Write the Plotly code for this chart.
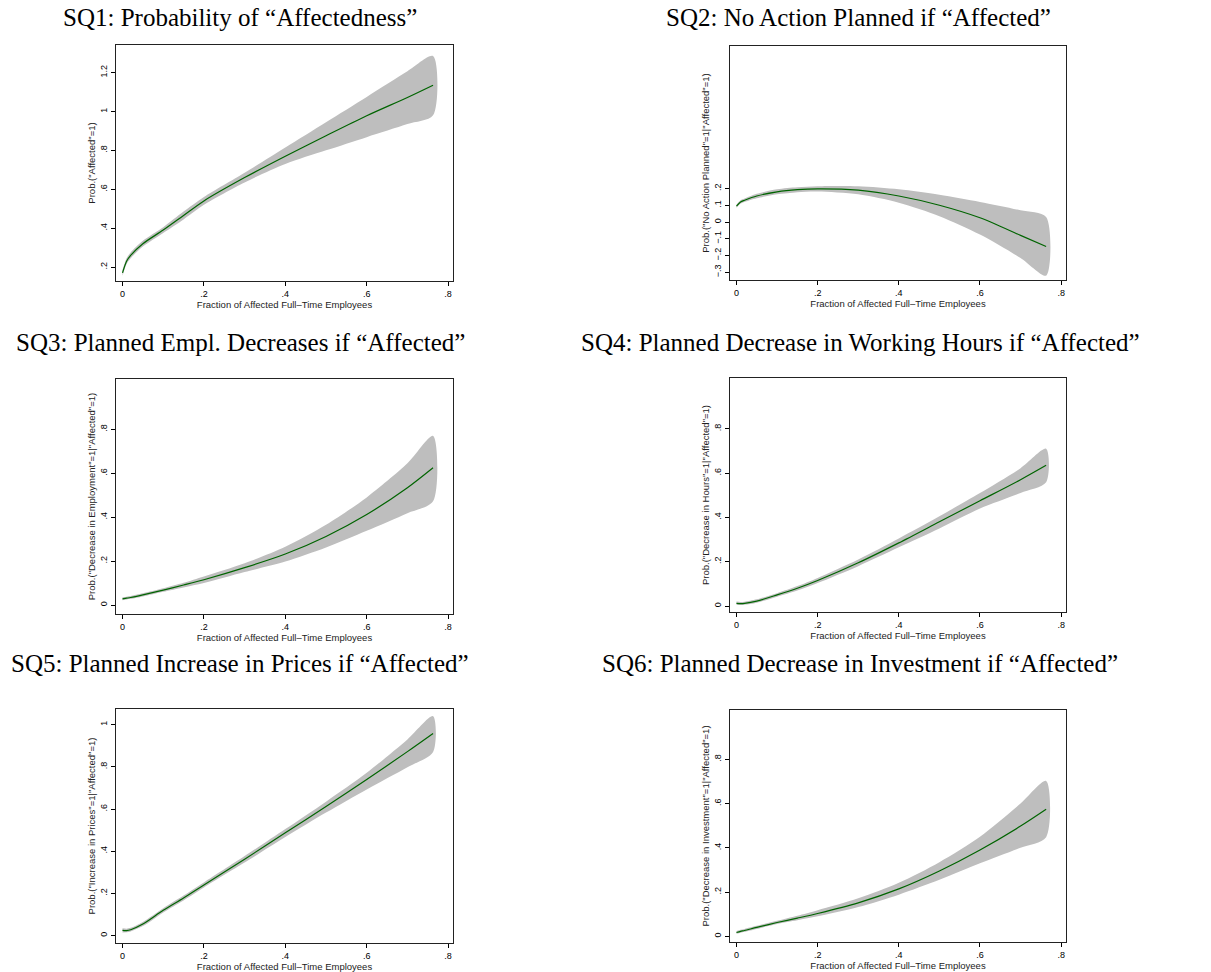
import plotly.graph_objects as go

W, H = 1211, 972

# ---------------- data ----------------
x_frac = [0, 0.01, 0.02, 0.05, 0.1, 0.15, 0.2, 0.3, 0.4, 0.5, 0.6, 0.7, 0.763]

sq1_mid = [0.17, 0.23, 0.26, 0.32, 0.39, 0.465, 0.54, 0.66, 0.77, 0.875, 0.978, 1.072, 1.135]
sq1_hi  = [0.185, 0.245, 0.275, 0.335, 0.405, 0.485, 0.56, 0.685, 0.815, 0.945, 1.075, 1.207, 1.285]
sq1_lo  = [0.155, 0.215, 0.245, 0.305, 0.375, 0.445, 0.52, 0.635, 0.73, 0.80, 0.868, 0.935, 0.98]

sq2_mid = [0.095, 0.12, 0.13, 0.155, 0.18, 0.193, 0.198, 0.19, 0.155, 0.10, 0.025, -0.08, -0.146]
sq2_hi  = [0.105, 0.13, 0.14, 0.168, 0.195, 0.207, 0.213, 0.213, 0.195, 0.163, 0.12, 0.07, 0.03]
sq2_lo  = [0.085, 0.11, 0.12, 0.142, 0.165, 0.178, 0.182, 0.165, 0.115, 0.035, -0.075, -0.215, -0.32]

sq3_mid = [0.028, 0.031, 0.034, 0.046, 0.068, 0.091, 0.115, 0.17, 0.232, 0.312, 0.412, 0.534, 0.625]
sq3_hi  = [0.035, 0.038, 0.041, 0.053, 0.076, 0.101, 0.13, 0.19, 0.265, 0.365, 0.49, 0.645, 0.77]
sq3_lo  = [0.022, 0.025, 0.028, 0.039, 0.06, 0.08, 0.1, 0.15, 0.198, 0.262, 0.338, 0.418, 0.472]

sq4_mid = [0.012, 0.011, 0.012, 0.022, 0.05, 0.08, 0.115, 0.195, 0.285, 0.38, 0.475, 0.57, 0.635]
sq4_hi  = [0.02, 0.018, 0.019, 0.03, 0.058, 0.09, 0.127, 0.21, 0.305, 0.405, 0.51, 0.622, 0.71]
sq4_lo  = [0.006, 0.005, 0.006, 0.015, 0.042, 0.07, 0.104, 0.18, 0.265, 0.35, 0.44, 0.51, 0.558]

sq5_mid = [0.025, 0.024, 0.028, 0.055, 0.12, 0.178, 0.24, 0.362, 0.487, 0.612, 0.74, 0.872, 0.958]
sq5_hi  = [0.035, 0.033, 0.037, 0.065, 0.13, 0.19, 0.252, 0.377, 0.505, 0.635, 0.772, 0.93, 1.04]
sq5_lo  = [0.015, 0.016, 0.02, 0.045, 0.11, 0.167, 0.228, 0.346, 0.467, 0.583, 0.693, 0.798, 0.87]

sq6_mid = [0.017, 0.022, 0.026, 0.04, 0.062, 0.082, 0.103, 0.151, 0.214, 0.295, 0.39, 0.498, 0.574]
sq6_hi  = [0.024, 0.029, 0.033, 0.047, 0.07, 0.093, 0.118, 0.172, 0.242, 0.335, 0.45, 0.6, 0.702]
sq6_lo  = [0.011, 0.016, 0.02, 0.033, 0.055, 0.072, 0.09, 0.132, 0.188, 0.255, 0.33, 0.40, 0.448]

titles = [
    "SQ1: Probability of “Affectedness”",
    "SQ2: No Action Planned if “Affected”",
    "SQ3: Planned Empl. Decreases if “Affected”",
    "SQ4: Planned Decrease in Working Hours if “Affected”",
    "SQ5: Planned Increase in Prices if “Affected”",
    "SQ6: Planned Decrease in Investment if “Affected”",
]
y_titles = [
    'Prob.("Affected"=1)',
    'Prob.("No Action Planned"=1|"Affected"=1)',
    'Prob.("Decrease in Employment"=1|"Affected"=1)',
    'Prob.("Decrease in Hours"=1|"Affected"=1)',
    'Prob.("Increase in Prices"=1|"Affected"=1)',
    'Prob.("Decrease in Investment"=1|"Affected"=1)',
]
x_title = "Fraction of Affected Full–Time Employees"

x_tickvals = [0, 0.2, 0.4, 0.6, 0.8]
x_ticktext = ["0", ".2", ".4", ".6", ".8"]

y_tickvals = [
    [0.2, 0.4, 0.6, 0.8, 1.0, 1.2],
    [-0.3, -0.2, -0.1, 0, 0.1, 0.2],
    [0, 0.2, 0.4, 0.6, 0.8],
    [0, 0.2, 0.4, 0.6, 0.8],
    [0, 0.2, 0.4, 0.6, 0.8, 1.0],
    [0, 0.2, 0.4, 0.6, 0.8],
]
y_ticktext = [
    [".2", ".4", ".6", ".8", "1", "1.2"],
    ["−.3", "−.2", "−.1", "0", ".1", ".2"],
    ["0", ".2", ".4", ".6", ".8"],
    ["0", ".2", ".4", ".6", ".8"],
    ["0", ".2", ".4", ".6", ".8", "1"],
    ["0", ".2", ".4", ".6", ".8"],
]
y_ranges = [
    [0.128, 1.342],
    [-0.346, 1.05],
    [-0.041, 1.029],
    [-0.027, 1.029],
    [-0.035, 1.074],
    [-0.026, 1.023],
]
x_range = [-0.016, 0.812]

series = [
    (sq1_mid, sq1_lo, sq1_hi),
    (sq2_mid, sq2_lo, sq2_hi),
    (sq3_mid, sq3_lo, sq3_hi),
    (sq4_mid, sq4_lo, sq4_hi),
    (sq5_mid, sq5_lo, sq5_hi),
    (sq6_mid, sq6_lo, sq6_hi),
]

# ---------------- layout (pixel boxes of plot regions) ----------------
boxes = [  # left, right, top, bottom in px
    (116, 453, 45, 281),
    (730, 1066, 46, 280),
    (116, 453, 379, 614),
    (730, 1066, 378, 612),
    (116, 453, 709, 943),
    (730, 1066, 710, 942),
]
title_pos = [(240, 18), (858, 18), (240, 342), (860, 342), (240, 663), (860, 663)]

BAND = "#bebebe"
LINE = "#006400"
SANS = "Liberation Sans, Arial, sans-serif"
TICKFONT = dict(family=SANS, size=9, color="black")

fig = go.Figure()
layout = dict(
    width=W, height=H, margin=dict(l=0, r=0, t=0, b=0),
    paper_bgcolor="white", plot_bgcolor="white", showlegend=False,
)
annotations = []

for i, ((mid, lo, hi), box) in enumerate(zip(series, boxes)):
    k = i + 1
    xa = "x" if k == 1 else f"x{k}"
    ya = "y" if k == 1 else f"y{k}"
    fig.add_trace(go.Scatter(
        x=x_frac + x_frac[::-1], y=hi + lo[::-1], mode="lines",
        fill="toself", fillcolor=BAND,
        line=dict(width=0, color=BAND, shape="spline", smoothing=0.8),
        xaxis=xa, yaxis=ya, hoverinfo="skip"))
    fig.add_trace(go.Scatter(
        x=x_frac, y=mid, mode="lines",
        line=dict(width=1.2, color=LINE, shape="spline", smoothing=0.8),
        xaxis=xa, yaxis=ya))
    l, r, t, b = box
    xkey = "xaxis" if k == 1 else f"xaxis{k}"
    ykey = "yaxis" if k == 1 else f"yaxis{k}"
    layout[xkey] = dict(
        domain=[l / W, r / W], anchor=ya, range=x_range,
        tickvals=x_tickvals, ticktext=x_ticktext, ticks="outside", ticklen=4,
        tickcolor="black", tickwidth=1, tickfont=TICKFONT, showgrid=False, zeroline=False,
        showline=True, linecolor="#222", linewidth=1, mirror=True,
        title=dict(text=x_title, font=dict(family=SANS, size=9.5, color="#222"), standoff=1),
    )
    layout[ykey] = dict(
        domain=[1 - b / H, 1 - t / H], anchor=xa, range=y_ranges[i],
        tickvals=y_tickvals[i], ticktext=y_ticktext[i], ticks="outside", ticklen=4,
        tickcolor="black", tickwidth=1, tickfont=TICKFONT, tickangle=-90,
        showgrid=False, zeroline=False,
        showline=True, linecolor="#222", linewidth=1, mirror=True,
        title=dict(text=y_titles[i], font=dict(family=SANS, size=9.5, color="#222"), standoff=2),
    )
    cx, cy = title_pos[i]
    annotations.append(dict(
        text=titles[i], xref="paper", yref="paper", x=cx / W, y=1 - cy / H,
        xanchor="center", yanchor="middle", showarrow=False,
        font=dict(family="Liberation Serif, Times New Roman, serif", size=25, color="black"),
    ))

layout["annotations"] = annotations
fig.update_layout(**layout)
fig.write_html("out.html", config={"displayModeBar": False},
               post_script="document.body.style.margin='0';")
